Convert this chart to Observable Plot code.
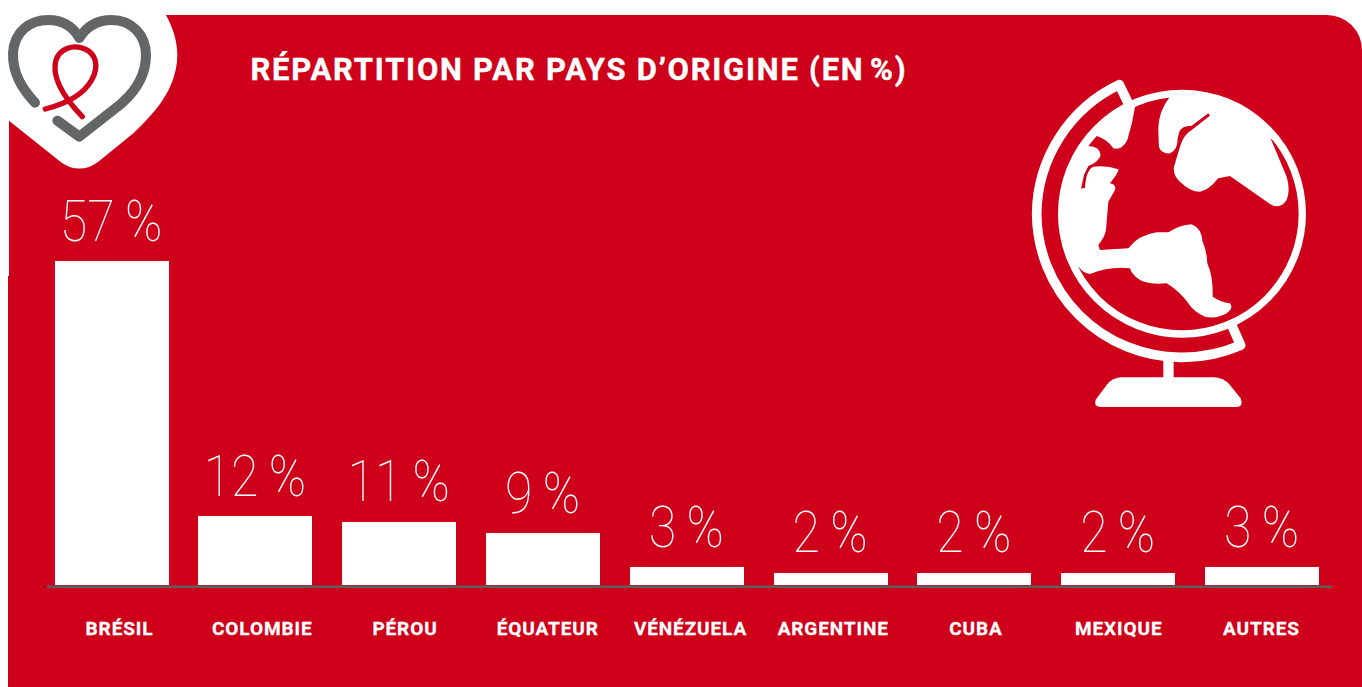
<!DOCTYPE html>
<html lang="fr">
<head>
<meta charset="utf-8">
<title>Répartition par pays d’origine</title>
<script src="https://cdn.jsdelivr.net/npm/d3@7"></script>
<script src="https://cdn.jsdelivr.net/npm/@observablehq/plot@0.6"></script>
<style>
html,body{margin:0;padding:0;background:#fff;overflow:hidden}
svg{display:block}
</style>
</head>
<body>
<div id="chart"></div>
<script>
const countries = ["BRÉSIL","COLOMBIE","PÉROU","ÉQUATEUR","VÉNÉZUELA","ARGENTINE","CUBA","MEXIQUE","AUTRES"];
const shares = [57,12,11,9,3,2,2,2,3];
const titleText = "RÉPARTITION PAR PAYS D’ORIGINE (EN\u202F%)";

const RED = "#cf0019", GREY = "#646567";
const table = countries.map((country,i)=>({country,share:shares[i]}));

function art(){
  const g = d3.create("svg:g");
  g.append("path").attr("fill",RED)
    .attr("d","M8,687V276H9V15H1327A35,35 0 0 1 1362,50V687Z");
  // logo
  const logo = g.append("g").attr("transform","scale(0.3333)");
  logo.append("path").attr("fill","#fff")
    .attr("d","M498,45C525,95 540,150 528,205C515,270 480,325 400,400L295,485C260,512 220,512 185,488L27,362V45Z");
  logo.append("path").attr("fill","none").attr("stroke",GREY).attr("stroke-width",30)
    .attr("stroke-linecap","round").attr("stroke-linejoin","round")
    .attr("d","M105,308C65,265 38,220 39,160C42,95 90,60 145,60C190,60 220,82 238,114C258,82 290,60 335,60C395,60 438,105 438,165C438,225 410,270 365,310L238,410L172,362");
  logo.append("path").attr("fill","none").attr("stroke",RED).attr("stroke-width",16)
    .attr("stroke-linecap","round").attr("stroke-linejoin","round")
    .attr("d","M136,327C195,312 250,285 275,240C300,195 285,160 255,147C220,132 180,145 168,180C155,225 180,280 247,350");
  // globe
  const globe = g.append("g").attr("transform","translate(1010,60) scale(0.3333)");
  globe.append("circle").attr("cx",516).attr("cy",461).attr("r",361)
    .attr("fill","none").attr("stroke","#fff").attr("stroke-width",22);
  globe.append("path").attr("fill","none").attr("stroke","#fff").attr("stroke-width",29)
    .attr("stroke-linecap","round").attr("stroke-linejoin","round")
    .attr("d","M352,124L328,74A434,434 0 0 0 80,461A434,434 0 0 0 510,892A434,434 0 0 0 692,856L668,802");
  globe.append("rect").attr("x",460).attr("y",900).attr("width",31).attr("height",60).attr("fill","#fff");
  globe.append("path").attr("fill","#fff")
    .attr("d","M335,952H610Q640,952 660,975L692,1015Q702,1040 680,1041H272Q248,1040 258,1018L290,975Q308,952 335,952Z");
  globe.append("path").attr("fill","#fff")
    .attr("d","M477,115L476,105A358,358 0 0 1 791,231L783,238L830,350Q842,390 830,420Q810,450 780,432L660,348L625,355Q595,392 570,395Q540,395 510,365Q488,345 492,320L510,260Q520,225 545,210L600,167L595,160L545,197Q515,197 508,215L503,235Q503,272 480,280Q455,282 447,262L445,215C445,185 450,150 477,115Z");
  globe.append("path").attr("fill","#fff")
    .attr("d","M375,140Q368,190 352,240Q335,272 310,265Q295,240 260,228L235,258Q270,260 272,285Q268,305 235,318L222,345L213,386L225,383Q228,330 250,320Q290,315 325,328Q328,335 300,370Q320,375 315,390L295,425L288,510Q285,530 265,555L270,570L355,565Q385,525 440,517L475,517Q510,495 545,493Q575,505 578,545Q590,570 592,610Q610,650 608,710Q630,725 660,730Q672,745 650,760Q620,778 585,770Q550,755 535,730Q510,695 470,670Q420,675 390,660Q365,645 360,625Q300,618 240,642Q220,640 207,622L198,626A358,358 0 0 1 372,133Z");
  return g.node();
}

// tick labels sit on their own evenly spaced positions, slightly off the bars
const labelX = d3.scalePoint(countries,[119,1261]);

const chart = Plot.plot({
  width:1362, height:687,
  marginTop:0, marginRight:0, marginBottom:0, marginLeft:0,
  style:{background:"transparent"},
  x:{type:"band",domain:countries,range:[54.6,1319],paddingInner:0.207,paddingOuter:0,align:0.5,round:false,axis:null},
  y:{domain:[0,57],range:[585,262],axis:null},
  marks:[
    art,
    Plot.barY(table,{x:"country",y:"share",fill:"#fff",insetTop:-1,className:"bar"}),
    Plot.ruleY([0],{stroke:"#5f5f5f",strokeWidth:2.4,insetLeft:47,insetRight:30,dy:1.2}),
    Plot.text(table,{x:"country",y:"share",text:d=>d.share+"\u2009%",fill:"#fff",dx:-1,dy:-22,lineAnchor:"bottom",
      fontFamily:"Roboto",fontWeight:100,fontSize:57,className:"num"}),
    Plot.text(countries,{x:d=>d,text:d=>d,frameAnchor:"bottom",lineAnchor:"bottom",dy:-53,fill:"#fff",stroke:"#fff",strokeWidth:0.3,
      fontFamily:"Roboto",fontWeight:700,fontSize:19,className:"lab",
      render(index,scales,values,dims,ctx,next){
        const half = scales.x.bandwidth()/2;
        return next(index,scales,{...values,x:Float64Array.from(countries,c=>labelX(c)-half)},dims,ctx);
      }}),
    Plot.text([titleText],{frameAnchor:"top-left",textAnchor:"start",lineAnchor:"bottom",dx:250,dy:79,fill:"#fff",stroke:"#fff",strokeWidth:0.4,
      fontFamily:"Roboto",fontWeight:700,fontSize:31,className:"ttl"})
  ]
});
const root = d3.select(chart);
root.selectAll(".num text").attr("transform",function(){return this.getAttribute("transform")+" scale(0.88,1)";});
root.selectAll(".ttl text").style("letter-spacing","1.75px");
root.selectAll(".lab text").style("letter-spacing","0.9px");
root.selectAll(".bar rect").each(function(){
  const x = Math.round(+this.getAttribute("x"));
  this.setAttribute("x",x); this.setAttribute("width",114);
  const y = Math.round(+this.getAttribute("y")), b = 585;
  this.setAttribute("y",y); this.setAttribute("height",b-y);
});
document.getElementById("chart").append(chart);
</script>
</body>
</html>
